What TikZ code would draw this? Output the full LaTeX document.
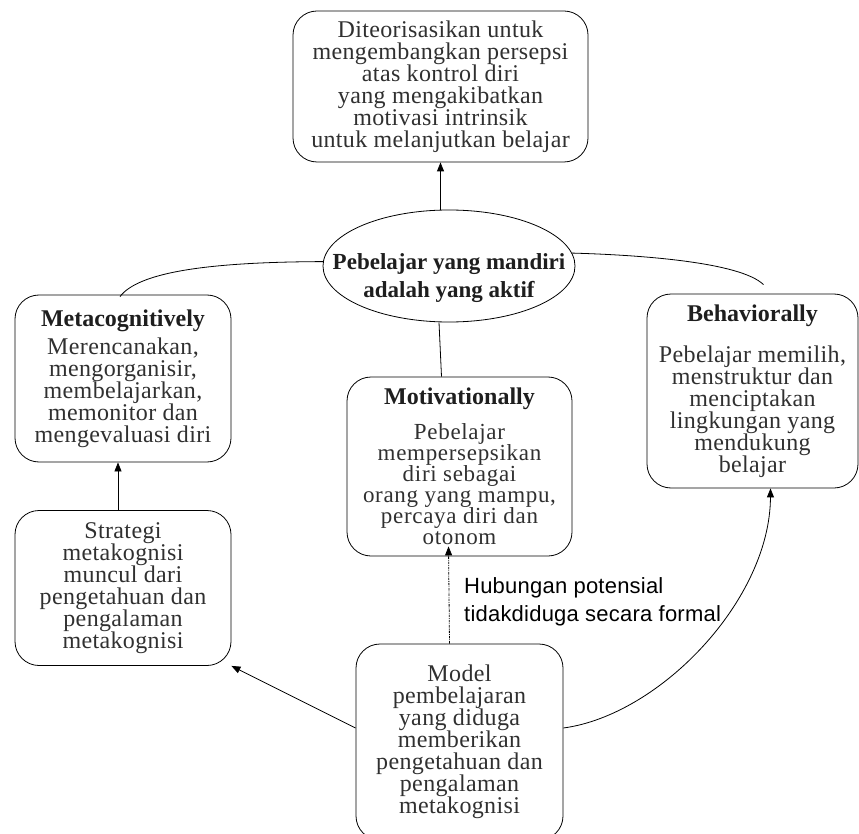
\documentclass[tikz,border=0pt]{standalone}
\usepackage{fontspec}
\setmainfont{Liberation Serif}
\newfontfamily\bodyfont[LetterSpace=1.5]{Liberation Serif}
\newfontfamily\bodyfontwide[LetterSpace=3]{Liberation Serif}
\newfontfamily\titlefont{Liberation Serif}
\newfontfamily\labelfont[LetterSpace=1]{Liberation Sans}
\usetikzlibrary{arrows.meta,shapes.geometric,calc}
\definecolor{bodygray}{HTML}{303030}
\definecolor{titlegray}{HTML}{1E1E1E}
\newcommand\boxtitle[1]{{\titlefont\bfseries\color{titlegray}#1}}
\tikzset{
  box/.style={draw, rounded corners=24pt, inner sep=0pt, align=center, text=bodygray,
    font=\bodyfont\fontsize{24}{22}\selectfont, line width=0.8pt},
  conn/.style={line width=0.8pt},
  arr/.style={conn, -{Triangle[length=9pt,width=7pt]}},
  dotarr/.style={line width=0.8pt, dash pattern=on 2.5pt off 1pt on 0.8pt off 1pt,
    -{Triangle[length=9pt,width=7pt]}},
  lbl/.style={inner sep=0pt, align=left, text=black,
    font=\labelfont\fontsize{22}{28}\selectfont}
}
\begin{document}
\begin{tikzpicture}[x=1pt,y=-1pt]
\useasboundingbox (0,0) rectangle (859,834);
\clip (0,0) rectangle (859,834);

\node[box, minimum width=295pt, minimum height=151pt] (top) at (440.5,86.5)
  {Diteorisasikan untuk\\mengembangkan persepsi\\atas kontrol diri\\yang mengakibatkan\\motivasi intrinsik\\untuk melanjutkan belajar};

\node[draw, ellipse, minimum width=252pt, minimum height=112pt, inner sep=0pt, line width=0.8pt] (ell) at (449,266) {};
\node[inner sep=0pt, align=center, text=titlegray, font=\titlefont\bfseries\fontsize{23}{28}\selectfont] (elltxt) at (449,278)
  {Pebelajar yang mandiri\\adalah yang aktif};

\node[box, minimum width=216pt, minimum height=167pt] (meta) at (123,378.5)
  {\boxtitle{Metacognitively}\\[6pt]Merencanakan,\\mengorganisir,\\membelajarkan,\\memonitor dan\\mengevaluasi diri};

\node[box, minimum width=216pt, minimum height=155pt] (strat) at (123,588)
  {Strategi\\metakognisi\\muncul dari\\pengetahuan dan\\pengalaman\\metakognisi};

\node[box, minimum width=225pt, minimum height=179pt, font=\bodyfontwide\fontsize{23}{21}\selectfont] (motiv) at (459.5,466.5)
  {\boxtitle{\fontsize{24}{21}\selectfont Motivationally}\\[13pt]Pebelajar\\mempersepsikan\\diri sebagai\\orang yang mampu,\\percaya diri dan\\otonom};

\node[box, minimum width=211pt, minimum height=194pt] (behav) at (752.5,391)
  {\boxtitle{Behaviorally}\\[19pt]Pebelajar memilih,\\menstruktur dan\\menciptakan\\lingkungan yang\\mendukung\\belajar};

\node[box, minimum width=207pt, minimum height=196pt] (model) at (459.5,742)
  {Model\\pembelajaran\\yang diduga\\memberikan\\pengetahuan dan\\pengalaman\\metakognisi};

\node[lbl, anchor=north west] (lab) at (464,577) {Hubungan potensial\\tidakdiduga secara formal};

% connectors
\draw[arr] (ell.north -| top.south) -- (top.south);
\draw[conn] ($(ell.south)+(-10,0)$) -- ($(motiv.north)+(-18,0)$);
\draw[conn] ($(meta.north)+(-3,2)$) .. controls (140,270) and (220,262) .. (ell.178);
\draw[conn] (ell.6) .. controls (640,255) and (740,262) .. ($(behav.north)+(11,-9)$);
\draw[arr] ($(strat.north)+(-5,0)$) -- ($(meta.south)+(-5,0)$);
\draw[arr] ($(model.west)+(0,-14)$) -- (strat.south east);
\draw[arr] ($(model.east)+(0,-14)$) .. controls (660,715) and (770,600) .. ($(behav.south)+(18,0)$);
\draw[dotarr] ($(model.north)+(-10,0)$) -- ($(motiv.south)+(-11,-10)$);
\end{tikzpicture}
\end{document}
